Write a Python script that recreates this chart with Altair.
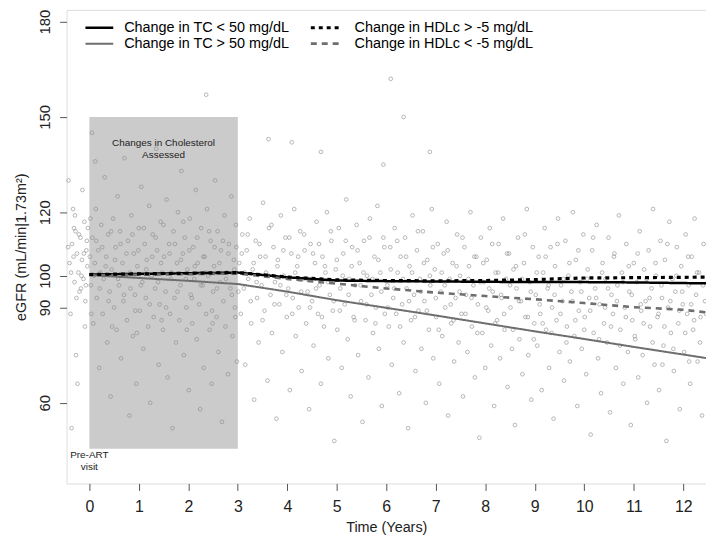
import altair as alt
import pandas as pd

# ---------------- data ----------------
scatter_pre = [(-0.40,104),(-0.35,110),(-0.30,98),(-0.28,114),(-0.25,107),(-0.22,101),(-0.20,95),(-0.18,112),
 (-0.15,105),(-0.12,99),(-0.10,117),(-0.08,92),(-0.06,108),(-0.04,103),(-0.38,88),(-0.33,121),(-0.27,75),
 (-0.14,127),(-0.42,130),(-0.24,66),(-0.09,84),(-0.31,115),(-0.17,96),(-0.36,52),(-0.05,111),
 (-0.43,109),(-0.37,101),(-0.32,106),(-0.26,93),(-0.21,113),(-0.16,100),(-0.11,107),(-0.07,97),(-0.03,115),(-0.29,119)]

scatter_0_3 = [(0.03,97),(0.06,112),(0.08,85),(0.11,104),(0.13,121),(0.15,93),(0.18,108),(0.20,71),(0.22,101),(0.24,116),
 (0.27,88),(0.29,99),(0.31,131),(0.34,106),(0.36,79),(0.38,113),(0.41,95),(0.43,62),(0.45,102),(0.48,118),
 (0.50,90),(0.53,109),(0.55,83),(0.57,125),(0.60,97),(0.62,114),(0.64,74),(0.67,104),(0.69,92),(0.71,137),
 (0.74,100),(0.76,86),(0.78,111),(0.81,56),(0.83,96),(0.85,119),(0.88,81),(0.90,107),(0.92,94),(0.95,66),
 (0.97,103),(1.00,115),(1.02,89),(1.05,128),(1.07,98),(1.09,77),(1.12,110),(1.14,93),(1.16,105),(1.19,84),
 (1.21,122),(1.23,60),(1.26,100),(1.28,113),(1.30,87),(1.33,96),(1.35,140),(1.37,108),(1.40,72),(1.42,91),
 (1.44,117),(1.47,101),(1.49,83),(1.51,106),(1.54,95),(1.56,124),(1.58,68),(1.61,110),(1.63,88),(1.65,99),
 (1.68,52),(1.70,114),(1.72,93),(1.75,79),(1.77,104),(1.79,120),(1.82,86),(1.84,97),(1.86,133),(1.89,107),
 (1.91,75),(1.93,112),(1.96,90),(1.98,102),(2.01,64),(2.03,118),(2.05,94),(2.08,85),(2.10,109),(2.12,99),
 (2.15,127),(2.17,80),(2.19,104),(2.22,91),(2.24,58),(2.26,115),(2.29,97),(2.31,71),(2.33,106),(2.36,88),
 (2.38,121),(2.40,100),(2.43,83),(2.45,111),(2.47,66),(2.50,95),(2.52,103),(2.54,130),(2.57,87),(2.59,114),
 (2.61,76),(2.64,98),(2.66,108),(2.68,54),(2.71,92),(2.73,119),(2.75,84),(2.78,101),(2.80,69),(2.82,110),
 (2.85,96),(2.87,125),(2.89,81),(2.92,105),(2.94,90),(2.96,116),(2.98,73),(2.36,157),(0.05,145),(0.12,136),
 (0.01,106),(0.09,100),(0.14,111),(0.21,96),(0.26,109),(0.33,103),(0.39,92),(0.44,114),(0.52,105),(0.58,99),
 (0.63,110),(0.70,94),(0.75,107),(0.82,101),(0.87,113),(0.93,89),(0.99,108),(1.04,97),(1.10,115),(1.15,102),
 (1.22,91),(1.27,106),(1.34,112),(1.39,98),(1.45,104),(1.50,116),(1.55,90),(1.62,107),(1.66,101),(1.73,110),
 (1.78,95),(1.85,105),(1.90,117),(1.95,99),(2.02,108),(2.07,93),(2.13,103),(2.18,112),(2.25,97),(2.30,106),
 (2.35,101),(2.42,114),(2.48,89),(2.53,109),(2.58,96),(2.63,104),(2.70,111),(2.76,99),(2.81,107),(2.88,94),
 (2.93,102),(2.97,109),(0.04,88),(0.46,84),(0.96,82),(1.46,86),(1.97,83),(2.49,85),(2.95,87),(0.02,118)]

scatter_3_6 = [(3.03,104),(3.06,88),(3.09,113),(3.12,96),(3.15,72),(3.18,108),(3.21,99),(3.24,118),(3.27,85),(3.30,102),
 (3.33,61),(3.36,111),(3.39,93),(3.42,79),(3.45,106),(3.48,97),(3.51,123),(3.54,89),(3.57,101),(3.60,67),
 (3.63,115),(3.66,94),(3.69,82),(3.72,109),(3.75,98),(3.78,55),(3.81,105),(3.84,91),(3.87,119),(3.90,76),
 (3.93,100),(3.96,112),(3.99,87),(4.02,96),(4.05,64),(4.08,107),(4.11,93),(4.14,121),(4.17,81),(4.20,103),
 (4.23,90),(4.26,114),(4.29,70),(4.32,99),(4.35,108),(4.38,85),(4.41,95),(4.44,58),(4.47,110),(4.50,92),
 (4.53,78),(4.56,104),(4.59,117),(4.62,88),(4.65,97),(4.68,66),(4.71,106),(4.74,84),(4.77,101),(4.80,120),
 (4.83,74),(4.86,94),(4.89,111),(4.92,89),(4.95,48),(4.98,102),(5.01,83),(5.04,115),(5.07,96),(5.10,71),
 (5.13,107),(5.16,91),(5.19,124),(5.22,80),(5.25,99),(5.28,62),(5.31,109),(5.34,87),(5.37,97),(5.40,116),
 (5.43,75),(5.46,104),(5.49,92),(5.52,54),(5.55,111),(5.58,86),(5.61,100),(5.64,68),(5.67,118),(5.70,94),
 (5.73,82),(5.76,106),(5.79,90),(5.82,122),(5.85,77),(5.88,101),(5.91,59),(5.94,112),(5.97,88),
 (3.62,143),(4.09,142),(4.68,139),(5.94,135),
 (3.01,95),(3.08,107),(3.14,101),(3.20,113),(3.26,92),(3.32,104),(3.38,98),(3.44,110),(3.50,86),(3.56,106),
 (3.62,100),(3.68,116),(3.74,91),(3.80,103),(3.86,97),(3.92,108),(3.98,94),(4.04,112),(4.10,88),(4.16,101),
 (4.22,106),(4.28,95),(4.34,113),(4.40,99),(4.46,90),(4.52,107),(4.58,96),(4.64,110),(4.70,87),(4.76,103),
 (4.82,98),(4.88,114),(4.94,92),(5.00,105),(5.06,89),(5.12,100),(5.18,111),(5.24,94),(5.30,103),(5.36,86),
 (5.42,108),(5.48,97),(5.54,101),(5.60,91),(5.66,112),(5.72,99),(5.78,85),(5.84,105),(5.90,95),(5.96,109)]

scatter_6_9 = [(6.02,97),(6.05,84),(6.08,109),(6.11,72),(6.14,93),(6.17,115),(6.20,88),(6.23,101),(6.26,63),(6.29,106),
 (6.32,91),(6.35,79),(6.38,112),(6.41,96),(6.44,52),(6.47,103),(6.50,86),(6.53,119),(6.56,94),(6.59,70),
 (6.62,108),(6.65,89),(6.68,99),(6.71,77),(6.74,114),(6.77,92),(6.80,60),(6.83,105),(6.86,83),(6.89,97),
 (6.92,121),(6.95,74),(6.98,102),(7.01,87),(7.04,110),(7.07,66),(7.10,95),(7.13,81),(7.16,107),(7.19,90),
 (7.22,117),(7.25,56),(7.28,99),(7.31,85),(7.34,104),(7.37,73),(7.40,93),(7.43,113),(7.46,79),(7.49,100),
 (7.52,88),(7.55,62),(7.58,109),(7.61,94),(7.64,76),(7.67,103),(7.70,120),(7.73,84),(7.76,97),(7.79,68),
 (7.82,106),(7.85,91),(7.88,49),(7.91,112),(7.94,82),(7.97,98),(8.00,71),(8.03,105),(8.06,89),(8.09,115),
 (8.12,78),(8.15,95),(8.18,59),(8.21,101),(8.24,86),(8.27,110),(8.30,74),(8.33,93),(8.36,118),(8.39,83),
 (8.42,99),(8.45,65),(8.48,107),(8.51,90),(8.54,77),(8.57,102),(8.60,53),(8.63,96),(8.66,112),(8.69,80),
 (8.72,92),(8.75,69),(8.78,104),(8.81,87),(8.84,121),(8.87,75),(8.90,98),(8.93,61),(8.96,109),(8.99,85),
 (6.09,162),(6.35,150),(6.88,139),
 (6.03,90),(6.09,102),(6.16,96),(6.22,111),(6.28,84),(6.34,99),(6.40,106),(6.46,92),(6.52,101),(6.58,87),
 (6.64,114),(6.70,95),(6.76,104),(6.82,89),(6.88,100),(6.94,109),(7.00,93),(7.06,83),(7.12,101),(7.18,97),
 (7.24,108),(7.30,91),(7.36,86),(7.42,103),(7.48,95),(7.54,112),(7.60,88),(7.66,99),(7.72,93),(7.78,106),
 (7.84,82),(7.90,98),(7.96,104),(8.02,90),(8.08,96),(8.14,110),(8.20,85),(8.26,101),(8.32,94),(8.38,88),
 (8.44,107),(8.50,97),(8.56,83),(8.62,103),(8.68,92),(8.74,99),(8.80,113),(8.86,87),(8.92,95),(8.98,80)]

scatter_9_12 = [(9.02,94),(9.05,78),(9.08,106),(9.11,88),(9.14,64),(9.17,101),(9.20,115),(9.23,83),(9.26,96),(9.29,71),
 (9.32,109),(9.35,90),(9.38,55),(9.41,103),(9.44,86),(9.47,118),(9.50,76),(9.53,97),(9.56,92),(9.59,67),
 (9.62,111),(9.65,84),(9.68,100),(9.71,73),(9.74,95),(9.77,120),(9.80,81),(9.83,105),(9.86,59),(9.89,89),
 (9.92,98),(9.95,77),(9.98,113),(10.01,87),(10.04,69),(10.07,102),(10.10,93),(10.13,50),(10.16,108),(10.19,82),
 (10.22,96),(10.25,116),(10.28,74),(10.31,91),(10.34,63),(10.37,104),(10.40,85),(10.43,99),(10.46,79),(10.49,112),
 (10.52,57),(10.55,94),(10.58,88),(10.61,107),(10.64,71),(10.67,97),(10.70,119),(10.73,83),(10.76,101),(10.79,66),
 (10.82,90),(10.85,110),(10.88,76),(10.91,95),(10.94,53),(10.97,86),(11.00,104),(11.03,80),(11.06,98),(11.09,68),
 (11.12,114),(11.15,89),(11.18,75),(11.21,102),(11.24,92),(11.27,60),(11.30,108),(11.33,84),(11.36,96),(11.39,121),
 (11.42,72),(11.45,100),(11.48,87),(11.51,64),(11.54,111),(11.57,93),(11.60,78),(11.63,105),(11.66,48),(11.69,90),
 (11.72,117),(11.75,82),(11.78,99),(11.81,70),(11.84,95),(11.87,109),(11.90,85),(11.93,58),(11.96,103),(11.99,91),
 (12.02,76),(12.05,113),(12.08,88),(12.11,97),(12.14,66),(12.17,106),(12.20,83),(12.23,118),(12.26,94),(12.29,73),
 (12.32,101),(12.35,87),(12.38,56),(12.41,110),(12.44,92),
 (9.04,101),(9.10,91),(9.16,85),(9.22,106),(9.28,97),(9.34,82),(9.40,94),(9.46,110),(9.52,88),(9.58,99),
 (9.64,79),(9.70,104),(9.76,92),(9.82,86),(9.88,108),(9.94,95),(10.00,83),(10.06,99),(10.12,89),(10.18,112),
 (10.24,93),(10.30,80),(10.36,101),(10.42,90),(10.48,96),(10.54,84),(10.60,106),(10.66,92),(10.72,78),(10.78,98),
 (10.84,87),(10.90,103),(10.96,94),(11.02,81),(11.08,107),(11.14,91),(11.20,85),(11.26,99),(11.32,93),(11.38,79),
 (11.44,104),(11.50,88),(11.56,97),(11.62,84),(11.68,110),(11.74,92),(11.80,77),(11.86,100),(11.92,89),(11.98,95),
 (12.04,82),(12.10,106),(12.16,91),(12.22,86),(12.28,101),(12.34,79),(12.40,97),(12.46,88),(12.12,73),(11.58,72)]

line_times = [0, 1, 2, 3, 4, 5, 6, 7, 8, 9, 10, 11, 12, 12.5]
tc_low   = [100.4, 100.6, 100.8, 101.0, 99.5, 98.5, 98.3, 98.2, 98.1, 98.0, 98.0, 97.9, 97.7, 97.6]
tc_high  = [100.2, 99.3, 98.4, 97.4, 95.0, 92.3, 89.9, 87.5, 85.0, 82.5, 80.1, 77.6, 75.2, 74.0]
hdl_high = [100.4, 100.6, 100.8, 101.0, 99.6, 98.7, 98.5, 98.4, 98.5, 98.8, 99.3, 99.4, 99.5, 99.6]
hdl_low  = [100.2, 100.3, 100.5, 100.7, 99.0, 97.5, 96.0, 94.7, 93.6, 92.6, 91.4, 90.1, 89.3, 88.4]

series_names = ["Change in TC < 50 mg/dL", "Change in TC > 50 mg/dL",
                "Change in HDLc > -5 mg/dL", "Change in HDLc < -5 mg/dL"]
series_values = [tc_low, tc_high, hdl_high, hdl_low]
series_colors = ["#000000", "#6e6e6e", "#000000", "#6e6e6e"]
series_dash = [[1, 0], [1, 0], [4, 4], [6, 5]]
series_width = [2.5, 2.0, 3.2, 2.6]

y_ticks = [60, 90, 100, 120, 150, 180]
x_ticks = list(range(0, 13))

shade_x = [0, 3]
shade_y = [45.5, 150]

# ---------------- tables ----------------
pts = pd.DataFrame(scatter_pre + scatter_0_3 + scatter_3_6 + scatter_6_9 + scatter_9_12, columns=["t", "egfr"])
shade = pd.DataFrame({"x": [shade_x[0]], "x2": [shade_x[1]], "y": [shade_y[0]], "y2": [shade_y[1]]})
notes = pd.DataFrame({"t": [1.5, 0.0], "egfr": [141.8, 43.6],
                      "label": ["Changes in Cholesterol\nAssessed", "Pre-ART\nvisit"]})

FONT = "Liberation Sans"
xs = alt.Scale(domain=[-0.46, 12.46], nice=False, zero=False)
ys = alt.Scale(domain=[34.6, 183.7], nice=False, zero=False)

x_axis = alt.Axis(values=x_ticks, title="Time (Years)", grid=False, domain=False,
                  labelFontSize=16, titleFontSize=14.5, titleFontWeight="normal",
                  labelFont=FONT, titleFont=FONT, labelColor="#222", titleColor="#222",
                  tickColor="#555", tickSize=7, labelPadding=8, titlePadding=6)
y_axis = alt.Axis(values=y_ticks, title="eGFR (mL/min|1.73m²)", grid=False, domain=False,
                  labelFontSize=15, titleFontSize=14.5, titleFontWeight="normal",
                  labelFont=FONT, titleFont=FONT, labelColor="#222", titleColor="#222",
                  labelAngle=270, labelAlign="center", labelBaseline="bottom",
                  tickColor="#555", tickSize=7, labelPadding=7, titlePadding=9)

rect = alt.Chart(shade).mark_rect(color="#cbcbcb").encode(
    x=alt.X("x:Q", scale=xs, axis=x_axis), x2="x2", y=alt.Y("y:Q", scale=ys, axis=y_axis), y2="y2")

points = alt.Chart(pts).mark_point(filled=False, size=14, strokeWidth=0.8, color="#888888", opacity=0.75).encode(
    x=alt.X("t:Q", scale=xs), y=alt.Y("egfr:Q", scale=ys))

layers = [rect, points]
# draw solid lines first, then dashed ones on top
for i in [0, 1, 3, 2]:
    df = pd.DataFrame({"t": line_times, "egfr": series_values[i]})
    layers.append(alt.Chart(df).mark_line(color=series_colors[i], strokeDash=series_dash[i],
                                          strokeWidth=series_width[i]).encode(
        x=alt.X("t:Q", scale=xs), y=alt.Y("egfr:Q", scale=ys), order="t:Q"))

text = alt.Chart(notes).mark_text(fontSize=10, font=FONT, color="#222", lineBreak="\n",
                                  align="center", baseline="middle", lineHeight=12).encode(
    x=alt.X("t:Q", scale=xs), y=alt.Y("egfr:Q", scale=ys), text="label:N")
layers.append(text)

# manual legend (pixel layout inside plot area): 2 columns x 2 rows
leg_col_x = [19, 246]
leg_text_x = [58, 290]
leg_row_y = [18, 34]
for i, name in enumerate(series_names):
    cx = leg_col_x[i // 2]
    tx = leg_text_x[i // 2]
    ry = leg_row_y[i % 2]
    layers.append(alt.Chart(pd.DataFrame({"k": [0]})).mark_rule(
        color=series_colors[i], strokeDash=series_dash[i], strokeWidth=series_width[i]).encode(
        x=alt.value(cx), x2=alt.value(cx + 28), y=alt.value(ry)))
    layers.append(alt.Chart(pd.DataFrame({"k": [0]})).mark_text(
        text=name, font=FONT, fontSize=14.5, color="#000", align="left", baseline="middle").encode(
        x=alt.value(tx), y=alt.value(ry)))

chart = alt.layer(*layers).properties(
    width=644, height=477,
    autosize=alt.AutoSizeParams(type="none"),
    padding={"left": 59, "top": 0, "right": 0, "bottom": 54},
).configure_view(stroke="#555", strokeWidth=1).configure(background="white")

chart.save("out.html", embed_options={"renderer": "svg", "actions": False})
